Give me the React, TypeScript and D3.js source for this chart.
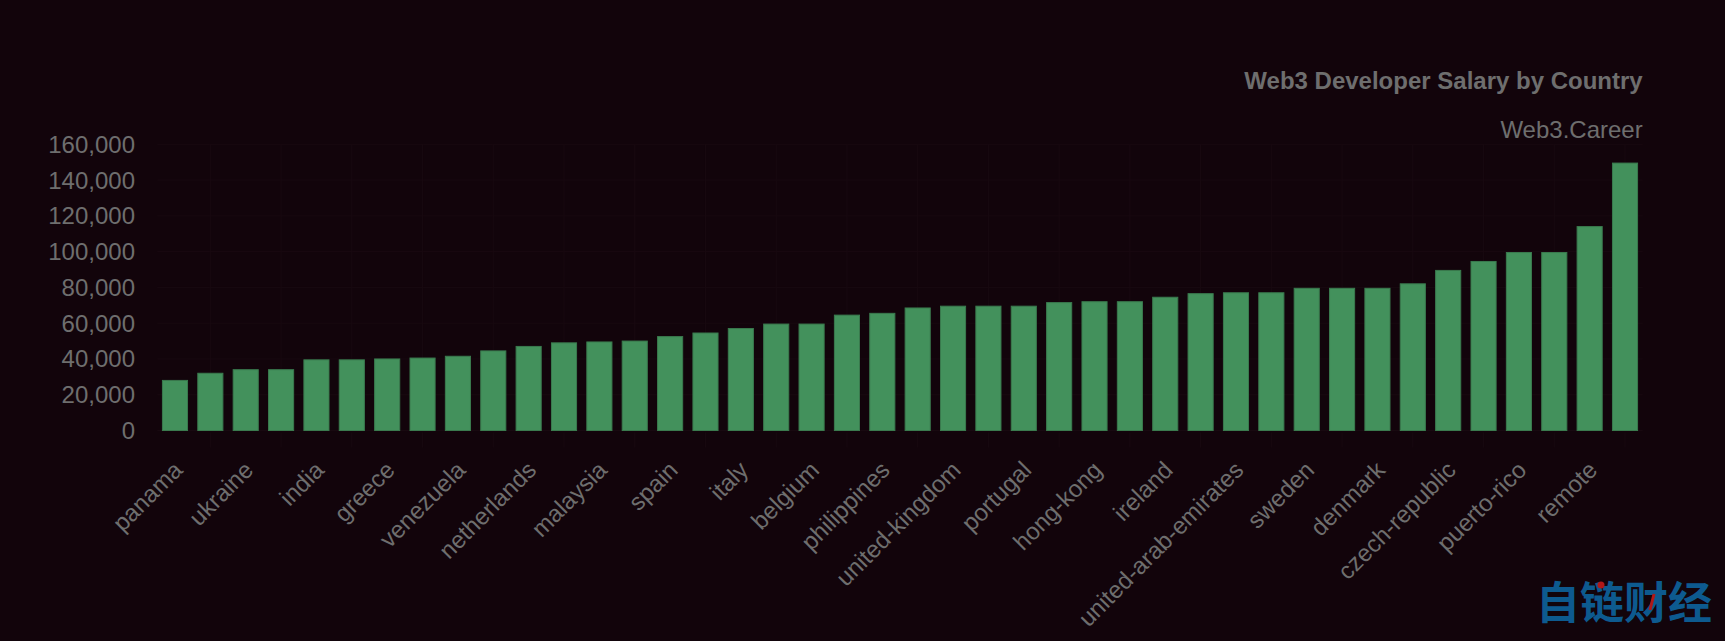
import React from 'react';
import * as d3 from 'd3';

const width = 1725;
const height = 641;

// countries sorted by salary; only every other name is shown on the axis
const countries = [
  'panama', 'argentina', 'ukraine', 'nigeria', 'india', 'brazil', 'greece', 'colombia',
  'venezuela', 'mexico', 'netherlands', 'poland', 'malaysia', 'turkey', 'spain', 'vietnam',
  'italy', 'thailand', 'belgium', 'south-africa', 'philippines', 'france', 'united-kingdom',
  'germany', 'portugal', 'singapore', 'hong-kong', 'estonia', 'ireland', 'austria',
  'united-arab-emirates', 'israel', 'sweden', 'canada', 'denmark', 'norway', 'czech-republic',
  'australia', 'puerto-rico', 'switzerland', 'remote', 'united-states',
];
const salaries = [
  28000, 32000, 34000, 34000, 39500, 39500, 40000, 40500,
  41500, 44500, 47000, 49000, 49500, 50000, 52500, 54500,
  57000, 59500, 59500, 64500, 65500, 68500, 69500,
  69500, 69500, 71500, 72000, 72000, 74500, 76500,
  77000, 77000, 79500, 79500, 79500, 82000, 89500,
  94500, 99500, 99500, 114000, 149500,
];
const yTicks = [0, 20000, 40000, 60000, 80000, 100000, 120000, 140000, 160000];

const title = 'Web3 Developer Salary by Country';
const subtitle = 'Web3.Career';

const bg = '#12040b';
const textColor = '#6e6e6e';
const gridColor = '#180910';
const font = '"Liberation Sans", Arial, sans-serif';

let margin = {left: 157.3, right: width - 1642.7, top: 144.3, bottom: height - 430.5};

export default function App() {
  const x = d3.scaleBand<string>()
    .domain(countries)
    .range([margin.left, width - margin.right])
    .paddingInner(0.29)
    .paddingOuter(0.145);
  const y = d3.scaleLinear().domain([0, 160000]).range([height - margin.bottom, margin.top]);
  const fmt = d3.format(',');
  const center = (c: string) => (x(c) as number) + x.bandwidth() / 2;

  return (
    <svg width={width} height={height} style={{position: 'absolute', left: 0, top: 0, display: 'block'}}>
      <rect x={0} y={0} width={width} height={height} fill={bg} />

      {/* faint grid */}
      {yTicks.map(t => (
        <line key={'h' + t} x1={margin.left} x2={width - margin.right} y1={y(t)} y2={y(t)} stroke={gridColor} strokeWidth={1} />
      ))}
      {countries.filter((c, i) => i % 2 === 1).map(c => (
        <g key={'v' + c}>
          <line x1={center(c)} x2={center(c)} y1={margin.top} y2={y(0)} stroke={gridColor} strokeWidth={1} />
          <line x1={center(c)} x2={center(c)} y1={y(0) + 2} y2={y(0) + 17} stroke={gridColor} strokeWidth={1} />
        </g>
      ))}

      {/* bars */}
      {countries.map((c, i) => (
        <rect key={c} x={x(c)} y={y(salaries[i])} width={x.bandwidth()} height={y(0) - y(salaries[i])}
          fill="#43915c" stroke="#3a7a4e" strokeWidth={1} />
      ))}

      {/* y axis labels */}
      {yTicks.map(t => (
        <text key={'yl' + t} x={135} y={y(t)} textAnchor="end" dominantBaseline="central"
          fontFamily={font} fontSize={24} fill={textColor}>{fmt(t)}</text>
      ))}

      {/* x axis labels */}
      {countries.map((c, i) => i % 2 === 0 ? (
        <text key={'xl' + c} transform={`translate(${center(c) + 3},${y(0) + 35}) rotate(-45)`}
          textAnchor="end" dominantBaseline="central" fontFamily={font} fontSize={24} fill={textColor}>{c}</text>
      ) : null)}

      {/* titles */}
      <text x={width - margin.right} y={89} textAnchor="end" fontFamily={font} fontSize={24} fontWeight="bold" fill={textColor}>{title}</text>
      <text x={width - margin.right} y={138} textAnchor="end" fontFamily={font} fontSize={24} fill={textColor}>{subtitle}</text>

      {/* watermark */}
      <text x={1712} y={619} textAnchor="end" fontFamily='"Noto Sans CJK SC", sans-serif' fontSize={44} fontWeight="bold" fill="#0d5a8f">自链财经</text>
      <circle cx={1601} cy={585} r={3.5} fill="#b01818" />
      <line x1={1654} y1={594} x2={1650} y2={610} stroke="#b01818" strokeWidth={3} />
    </svg>
  );
}
